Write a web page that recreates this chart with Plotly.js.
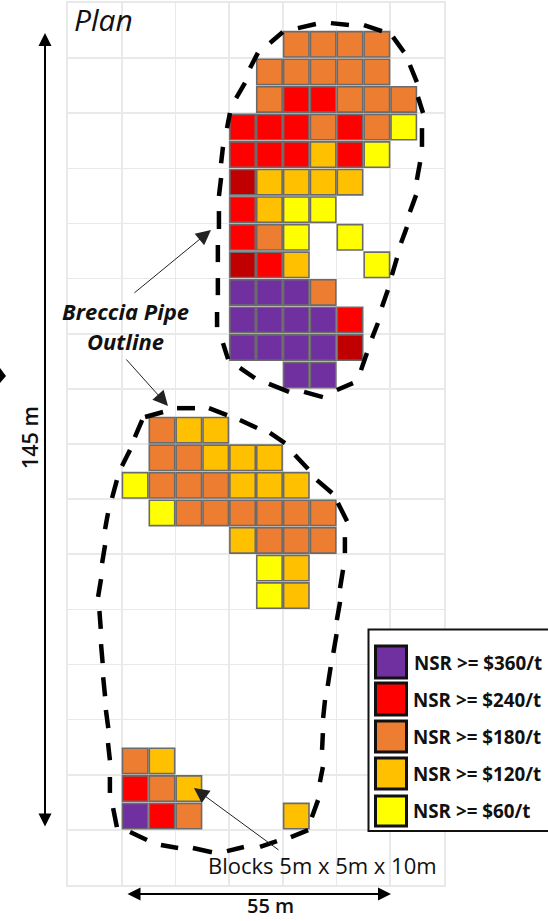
<!DOCTYPE html>
<html>
<head>
<meta charset="utf-8">
<script src="https://cdn.plot.ly/plotly-3.0.1.min.js"></script>
<style>html,body{margin:0;padding:0;background:#fff;overflow:hidden}</style>
</head>
<body>
<div id="chart" style="width:548px;height:921px"></div>
<script>
// Block columns / rows (block index, 1 block = 5 m), grouped by NSR class
const purpleCols  = [6,7,8, 6,7,8,9, 6,7,8,9, 8,9, 2];
const purpleRows  = [10,10,10, 11,11,11,11, 12,12,12,12, 13,13, 29];
const redCols     = [8,9, 6,7,8,10, 6,7,8,10, 6, 6, 7, 10, 2, 3];
const redRows     = [3,3, 4,4,4,4, 5,5,5,5, 7, 8, 9, 11, 28, 29];
const darkRedCols = [6, 6, 10];
const darkRedRows = [6, 9, 12];
const orangeCols  = [8,9,10,11, 7,8,9,10,11, 7,10,11,12, 9,11, 7, 9,
                     3, 3,4, 3,4,5, 4,5,6,7,8,9, 7,8,9, 2, 3, 4];
const orangeRows  = [1,1,1,1, 2,2,2,2,2, 3,3,3,3, 4,4, 8, 10,
                     15, 16,16, 17,17,17, 18,18,18,18,18,18, 19,19,19, 27, 28, 29];
const goldCols    = [9, 7,8,9,10, 7, 8,
                     4,5, 5,6,7, 6,7,8, 6, 8, 8, 3, 4, 8];
const goldRows    = [5, 6,6,6,6, 7, 9,
                     15,15, 16,16,16, 17,17,17, 19, 20, 21, 27, 28, 29];
const yellowCols  = [12, 11, 8,9, 8,10, 11, 2, 3, 7, 7];
const yellowRows  = [4, 5, 7,7, 8,8, 9, 17, 18, 20, 21];

// Breccia pipe outlines, one dash per pair (block units)
const northPipeCols = [5.92,6.03,null,6.26,6.59,null,6.78,7.07,null,7.52,8.00,null,8.56,9.23,null,9.79,10.46,null,11.02,11.69,null,12.10,12.51,null,12.73,12.99,null,13.03,13.22,null,13.18,13.18,null,13.11,12.99,null,12.96,12.73,null,12.62,12.40,null,12.25,12.06,null,11.91,11.69,null,11.54,11.32,null,11.13,10.91,null,10.61,10.01,null,9.49,8.79,null,8.23,7.48,null,6.96,6.40,null,5.96,5.77,null,5.55,5.55,null,5.58,5.58,null,5.58,5.58,null,5.62,5.62,null,5.62,5.70,null,5.70,5.77];
const northPipeRows = [4.54,3.99,null,3.45,2.90,null,2.36,1.81,null,1.45,1.05,null,0.91,0.76,null,0.73,0.80,null,0.80,1.02,null,1.23,1.78,null,2.25,2.87,null,3.41,3.99,null,4.54,5.22,null,5.77,6.42,null,6.97,7.58,null,8.13,8.71,null,9.25,9.87,null,10.41,11.03,null,11.61,12.16,null,12.70,13.32,null,13.79,14.04,null,14.30,14.11,null,14.11,13.82,null,13.61,13.24,null,12.92,12.34,null,11.76,11.21,null,10.60,9.98,null,9.40,8.78,null,8.20,7.55,null,7.00,6.35,null,5.81,5.22];
const southPipeCols = [2.87,3.54,null,4.06,4.73,null,5.25,5.92,null,6.40,7.04,null,7.52,8.08,null,8.45,8.94,null,9.27,9.83,null,10.05,10.39,null,10.31,10.31,null,10.24,10.13,null,10.13,10.01,null,10.00,9.88,null,9.78,9.67,null,9.57,9.50,null,9.49,9.46,null,9.49,9.38,null,9.31,9.08,null,8.94,8.30,null,7.78,7.15,null,6.55,5.92,null,5.36,4.65,null,4.10,3.46,null,2.94,2.31,null,1.82,1.68,null,1.56,1.56,null,1.56,1.49,null,1.50,1.41,null,1.38,1.31,null,1.29,1.23,null,1.22,1.17,null,1.12,1.23,null,1.27,1.38,null,1.38,1.49,null,1.64,1.82,null,2.01,2.31,null,2.49,2.76];
const southPipeRows = [15.02,14.84,null,14.70,14.70,null,14.70,14.95,null,15.13,15.42,null,15.60,15.97,null,16.40,16.91,null,17.31,17.78,null,18.14,18.80,null,19.38,19.96,null,20.57,21.23,null,21.73,22.39,null,22.90,23.58,null,24.09,24.78,null,25.29,25.94,null,26.49,27.10,null,27.72,28.27,null,28.92,29.54,null,30.01,30.26,null,30.41,30.62,null,30.62,30.77,null,30.81,30.66,null,30.66,30.55,null,30.37,30.08,null,29.90,29.21,null,28.66,28.08,null,27.47,26.85,null,26.31,25.65,null,25.15,24.46,null,23.95,23.26,null,22.71,22.06,null,21.55,20.90,null,20.32,19.67,null,19.09,18.51,null,17.96,17.31,null,16.80,16.22,null,15.75,15.13];

const legendLabels = ['NSR >= $360/t','NSR >= $240/t','NSR >= $180/t','NSR >= $120/t','NSR >= $60/t'];

const C = {purple:'#7030A0',red:'#FF0000',dark:'#C00000',orange:'#ED7D31',gold:'#FFC000',yellow:'#FFFF00'};
const legendColors = [C.purple,C.red,C.orange,C.gold,C.yellow];

// page-pixel helpers (for annotations and decoration only)
const W=548,H=921,L=68,R=104,T=3,B=36;
const pw=W-L-R, ph=H-T-B;
const px=x=>(x-L)/pw, py=y=>(H-B-y)/ph;

function blocks(cols,rows,color){
  return {type:'scatter',mode:'markers',hoverinfo:'skip',showlegend:false,
    x:cols.map(c=>c+0.5),y:rows.map(r=>r+0.5),
    marker:{symbol:'square',size:25.4,color:color,line:{color:'#6b6b6b',width:1.6}}};
}
function pipe(cols,rows){
  return {type:'scatter',mode:'lines',hoverinfo:'skip',showlegend:false,connectgaps:false,
    x:cols,y:rows,line:{color:'#000',width:4.5}};
}
const data=[
  blocks(orangeCols,orangeRows,C.orange),
  blocks(goldCols,goldRows,C.gold),
  blocks(yellowCols,yellowRows,C.yellow),
  blocks(redCols,redRows,C.red),
  blocks(darkRedCols,darkRedRows,C.dark),
  blocks(purpleCols,purpleRows,C.purple),
  pipe(northPipeCols,northPipeRows),
  pipe(southPipeCols,southPipeRows)
];

const FONT='"Open Sans", "Noto Sans", sans-serif';
function txt(text,x,y,size,extra){
  return Object.assign({text:text,xref:'paper',yref:'paper',x:px(x),y:py(y),showarrow:false,
    xanchor:'center',yanchor:'middle',font:{family:FONT,size:size,color:'#111'}},extra||{});
}
function arrow(x0,y0,x1,y1,width,size,color,extra){
  return Object.assign({text:'',xref:'paper',yref:'paper',x:px(x1),y:py(y1),ax:x0-x1,ay:y0-y1,
    axref:'pixel',ayref:'pixel',showarrow:true,arrowhead:2,arrowwidth:width,arrowsize:size,arrowcolor:color},extra||{});
}
const annotations=[
  txt('<i>Plan</i>',103,20,30),
  txt('<b><i>Breccia Pipe</i></b>',125,311,22),
  txt('<b><i>Outline</i></b>',125,341,22),
  txt('145 m',29,438,21.5,{textangle:-90,font:{family:FONT,size:21.5,color:'#111',weight:600}}),
  txt('55 m',270,906,20,{font:{family:FONT,size:20,color:'#111',weight:600}}),
  txt('Blocks 5m x 5m x 10m',322,865,22),
  arrow(133,294,211,230,1,3,'#222'),
  arrow(125,358,168,406,1,3,'#222'),
  arrow(280,851,194,788,1,3,'#222'),
  arrow(45,828,45,33,2,1.3,'#000',{arrowside:'end+start',startarrowhead:2,startarrowsize:1.3}),
  arrow(126,894,391,894,2,1.3,'#000',{arrowside:'end+start',startarrowhead:2,startarrowsize:1.3})
];
const rowsY=[[645,679],[682,716],[720,753],[757,790],[795,827]];
const textY=[663,700,737,774,811];
const textX=[412,411,411,411,411];
const shapes=[{type:'rect',xref:'paper',yref:'paper',x0:px(368.5),x1:px(556),y0:py(629.5),y1:py(831),
  fillcolor:'#fff',line:{color:'#111',width:2},layer:'above'},
  {type:'path',xref:'paper',yref:'paper',layer:'above',fillcolor:'#000',line:{width:0},
   path:`M ${px(0)} ${py(368)} L ${px(6)} ${py(376)} L ${px(0)} ${py(383)} Z`}];
legendLabels.forEach((t,i)=>{
  shapes.push({type:'rect',xref:'paper',yref:'paper',layer:'above',x0:px(375.5),x1:px(406.5),
    y0:py(rowsY[i][0]+1),y1:py(rowsY[i][1]-1),fillcolor:legendColors[i],line:{color:'#111',width:3}});
  annotations.push(txt('<b>'+t+'</b>',textX[i],textY[i],18.8,{xanchor:'left'}));
});

const axisBase={showticklabels:false,ticks:'',showgrid:true,gridcolor:'#e9e9e9',gridwidth:1.6,
  zeroline:false,showline:true,mirror:true,linecolor:'#e9e9e9',linewidth:1.6,fixedrange:true};
const layout={width:W,height:H,autosize:false,margin:{l:L,r:R,t:T,b:B,pad:0},
  paper_bgcolor:'#fff',plot_bgcolor:'#fff',showlegend:false,
  xaxis:Object.assign({},axisBase,{range:[0,14],tick0:0,dtick:2}),
  yaxis:Object.assign({},axisBase,{range:[32,0],tick0:0,dtick:2}),
  annotations:annotations,shapes:shapes};
Plotly.newPlot('chart',data,layout,{displayModeBar:false,staticPlot:true});
</script>
</body>
</html>
